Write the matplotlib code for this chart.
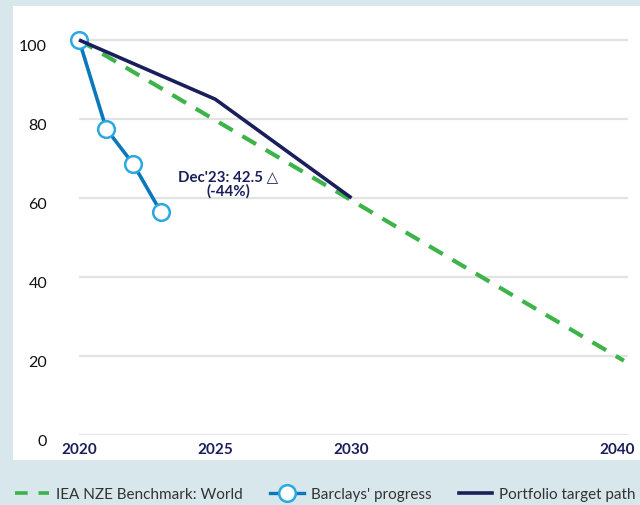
import matplotlib
matplotlib.use("Agg")
import matplotlib.pyplot as plt
from matplotlib.lines import Line2D
from matplotlib.patches import Rectangle
import matplotlib.transforms as mtransforms

# Data
bench_years = [2020, 2040]
bench_values = [100, 18.8]
target_years = [2020, 2025, 2030]
target_values = [100, 85, 60]
progress_years = [2020, 2021, 2022, 2023]
progress_values = [100, 77.5, 68.5, 56.5]
xticks = [2020, 2025, 2030, 2040]
yticks = [0, 20, 40, 60, 80, 100]
annotation = "Dec'23: 42.5 \u25b3\n(-44%)"
labels = ["IEA NZE Benchmark: World", "Barclays' progress", "Portfolio target path"]

BG = "#d7e7ec"
GREEN = "#3cb44a"
NAVY = "#1a1f5c"
BLUE = "#0a78bb"
LIGHTBLUE = "#2aa8e2"

plt.rcParams['font.family'] = ['Lato', 'DejaVu Sans']

W, H = 640, 506
fig = plt.figure(figsize=(6.4, 5.06), dpi=100, facecolor=BG)
fig.patches.append(Rectangle((13 / W, (H - 461) / H), 1 - 13 / W, (461 - 7) / H,
                             transform=fig.transFigure, facecolor="white",
                             edgecolor="none", zorder=-10))

left, right = 79 / W, 628 / W
bottom, top = (H - 436) / H, (H - 20) / H
ax = fig.add_axes([left, bottom, right - left, top - bottom])
ax.set_facecolor("none")
ax.set_zorder(1)
ax.set_xlim(2020, 2040.15)
ax.set_ylim(0, 105.3)

for y in yticks:
    ax.axhline(y, color="#e3e3e3", lw=1.6, zorder=1)

ax.plot(bench_years, bench_values, color=GREEN, lw=3.0, dashes=(3.8, 2.7),
        zorder=2, clip_on=False)
ax.plot(progress_years, progress_values, color=BLUE, lw=2.6, marker="o",
        markersize=12, markerfacecolor="white", markeredgecolor=LIGHTBLUE,
        markeredgewidth=1.8, zorder=3, clip_on=False)
ax.plot(target_years, target_values, color=NAVY, lw=2.6, zorder=4,
        solid_capstyle="butt", clip_on=False)

ax.text(2025.48, 63.7, annotation, ha="center", va="center", fontsize=10.8,
        fontweight="bold", color=NAVY, linespacing=1.0,
        family=['Lato', 'DejaVu Sans'])

for s in ax.spines.values():
    s.set_visible(False)
ax.set_xticks(xticks)
ax.set_xticklabels([str(x) for x in xticks])
ax.set_yticks(yticks)
ax.set_yticklabels([str(y) for y in yticks])
ax.tick_params(axis="both", length=0)
ax.tick_params(axis="x", pad=5, labelsize=11, labelcolor=NAVY)
ax.tick_params(axis="y", pad=23, labelsize=11.5, labelcolor="#111111")
for lab in ax.get_xticklabels():
    lab.set_fontweight("bold")
xlabs = ax.get_xticklabels()
xlabs[-1].set_transform(xlabs[-1].get_transform() +
                        mtransforms.ScaledTranslation(-7 / 100, 0, fig.dpi_scale_trans))
off = mtransforms.ScaledTranslation(0, -5 / 100, fig.dpi_scale_trans)
for lab in ax.get_yticklabels():
    lab.set_transform(lab.get_transform() + off)

handles = [
    Line2D([], [], color=GREEN, lw=2.6, dashes=(3.5, 3)),
    Line2D([], [], color=BLUE, lw=2.4, marker="o", markersize=12,
           markerfacecolor="white", markeredgecolor=LIGHTBLUE, markeredgewidth=1.8),
    Line2D([], [], color=NAVY, lw=2.6),
]
leg = fig.legend(handles, labels, ncol=3, loc="center",
                 bbox_to_anchor=((13 + 638) / 2 / W, (H - 495) / H), frameon=False,
                 fontsize=11.0, handlelength=2.2, handletextpad=0.45,
                 columnspacing=1.8, labelcolor="#333333",
                 borderaxespad=0, borderpad=0)

fig.savefig("out.png", dpi=100, facecolor=BG)
